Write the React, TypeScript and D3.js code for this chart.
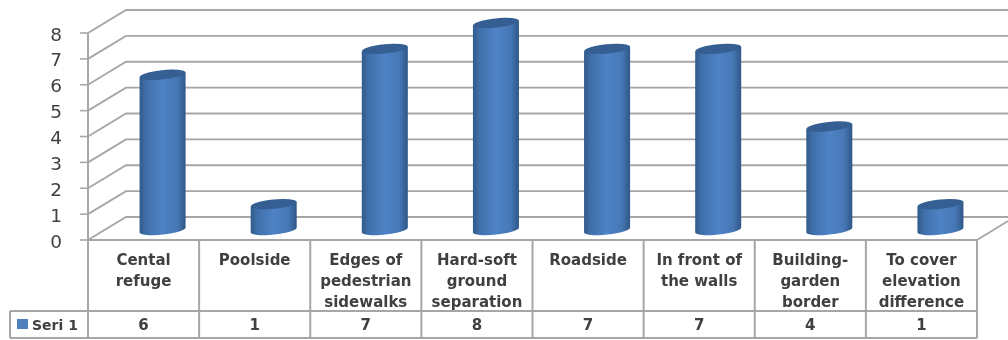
import React from "react";
import * as d3 from "d3";

const categories: string[][] = [
  ["Cental", "refuge"],
  ["Poolside"],
  ["Edges of", "pedestrian", "sidewalks"],
  ["Hard-soft", "ground", "separation"],
  ["Roadside"],
  ["In front of", "the walls"],
  ["Building-", "garden", "border"],
  ["To cover", "elevation", "difference"],
];
const seriesName = "Seri 1";
const values = [6, 1, 7, 8, 7, 7, 4, 1];
const yTicks = [0, 1, 2, 3, 4, 5, 6, 7, 8];

const W = 1008, H = 340;
const left = 88, right = 977, top = 33, bottom = 240;
const dx = 38, dy = -23;
const rowY = 311, tableBottom = 338, legendLeft = 10;
const grid = "#a6a6a6";
const ink = "#3f3f3f";

export default function App() {
  const idx = categories.map((_, i) => String(i));
  const x = d3.scaleBand().domain(idx).range([left, right]);
  const y = d3.scaleLinear().domain([0, 8]).range([bottom, top]);
  const rx = 23, ry = 4.6, tilt = -6;
  const tiltY = rx * Math.sin((tilt * Math.PI) / 180);
  const baseShift = -10;
  const shiftX = 19;
  return (
    <svg width={W} height={H} style={{ position: "absolute", left: 0, top: 0, background: "#fff" }}>
      <defs>
        <linearGradient id="cyl" x1="0" x2="1" y1="0" y2="0">
          <stop offset="0" stopColor="#315a8a" />
          <stop offset="0.14" stopColor="#3f6fa9" />
          <stop offset="0.5" stopColor="#4f83c6" />
          <stop offset="0.82" stopColor="#4677b5" />
          <stop offset="1" stopColor="#2f5786" />
        </linearGradient>
        <filter id="soft" x="-2%" y="-2%" width="104%" height="104%">
          <feGaussianBlur stdDeviation="0.7" />
        </filter>
      </defs>
      <g filter="url(#soft)">
        {yTicks.map((t) => (
          <g key={t}>
            <line x1={left - 8} x2={left} y1={y(t)} y2={y(t)} stroke={grid} strokeWidth={1.6} />
            <polyline
              points={`${left},${y(t)} ${left + dx},${y(t) + dy} ${W},${y(t) + dy}`}
              fill="none" stroke={grid} strokeWidth={1.8}
            />
            <text x={62} y={y(t) + 7.5} textAnchor="end" fontFamily="'DejaVu Sans'" fontSize={18.5} fill={ink}>
              {t}
            </text>
          </g>
        ))}
        <line x1={left} x2={left} y1={top} y2={tableBottom} stroke={grid} strokeWidth={2} />
        <line x1={right} y1={bottom} x2={right + 31} y2={bottom - 19} stroke={grid} strokeWidth={1.8} />

        {values.map((v, i) => {
          const cx = x(String(i))! + x.bandwidth() / 2 + shiftX;
          const yb = y(0) + baseShift;
          const yt = y(v) + baseShift;
          return (
            <g key={i}>
              <path
                d={`M${cx - rx},${yt - tiltY} L${cx - rx},${yb - tiltY} A${rx},${ry} ${tilt} 0 0 ${cx + rx},${yb + tiltY} L${cx + rx},${yt + tiltY} Z`}
                fill="url(#cyl)"
              />
              <ellipse cx={cx} cy={yt} rx={rx} ry={ry} fill="#355f92" transform={`rotate(${tilt} ${cx} ${yt})`} />
            </g>
          );
        })}

        <line x1={left} x2={right} y1={bottom} y2={bottom} stroke={grid} strokeWidth={2} />
        <line x1={legendLeft} x2={right} y1={rowY} y2={rowY} stroke={grid} strokeWidth={2} />
        <line x1={legendLeft} x2={right} y1={tableBottom} y2={tableBottom} stroke={grid} strokeWidth={2} />
        <line x1={legendLeft} x2={legendLeft} y1={rowY} y2={tableBottom} stroke={grid} strokeWidth={2} />
        {categories.map((_, i) => {
          const xr = x(String(i))! + x.bandwidth();
          return <line key={i} x1={xr} x2={xr} y1={bottom} y2={tableBottom} stroke={grid} strokeWidth={2} />;
        })}

        {categories.map((lines, i) => {
          const cx = x(String(i))! + x.bandwidth() / 2;
          return (
            <g key={i} fontFamily="'DejaVu Sans'" fontWeight="bold" fontSize={15} fill={ink} textAnchor="middle">
              {lines.map((l, j) => (
                <text key={j} x={cx} y={265 + j * 21} fontSize={15}>{l}</text>
              ))}
              <text x={cx} y={330}>{values[i]}</text>
            </g>
          );
        })}
        <rect x={17} y={319} width={11} height={10} fill="#4f81bd" />
        <text x={32} y={330} fontFamily="'DejaVu Sans'" fontWeight="bold" fontSize={14} fill={ink}>{seriesName}</text>
      </g>
    </svg>
  );
}
